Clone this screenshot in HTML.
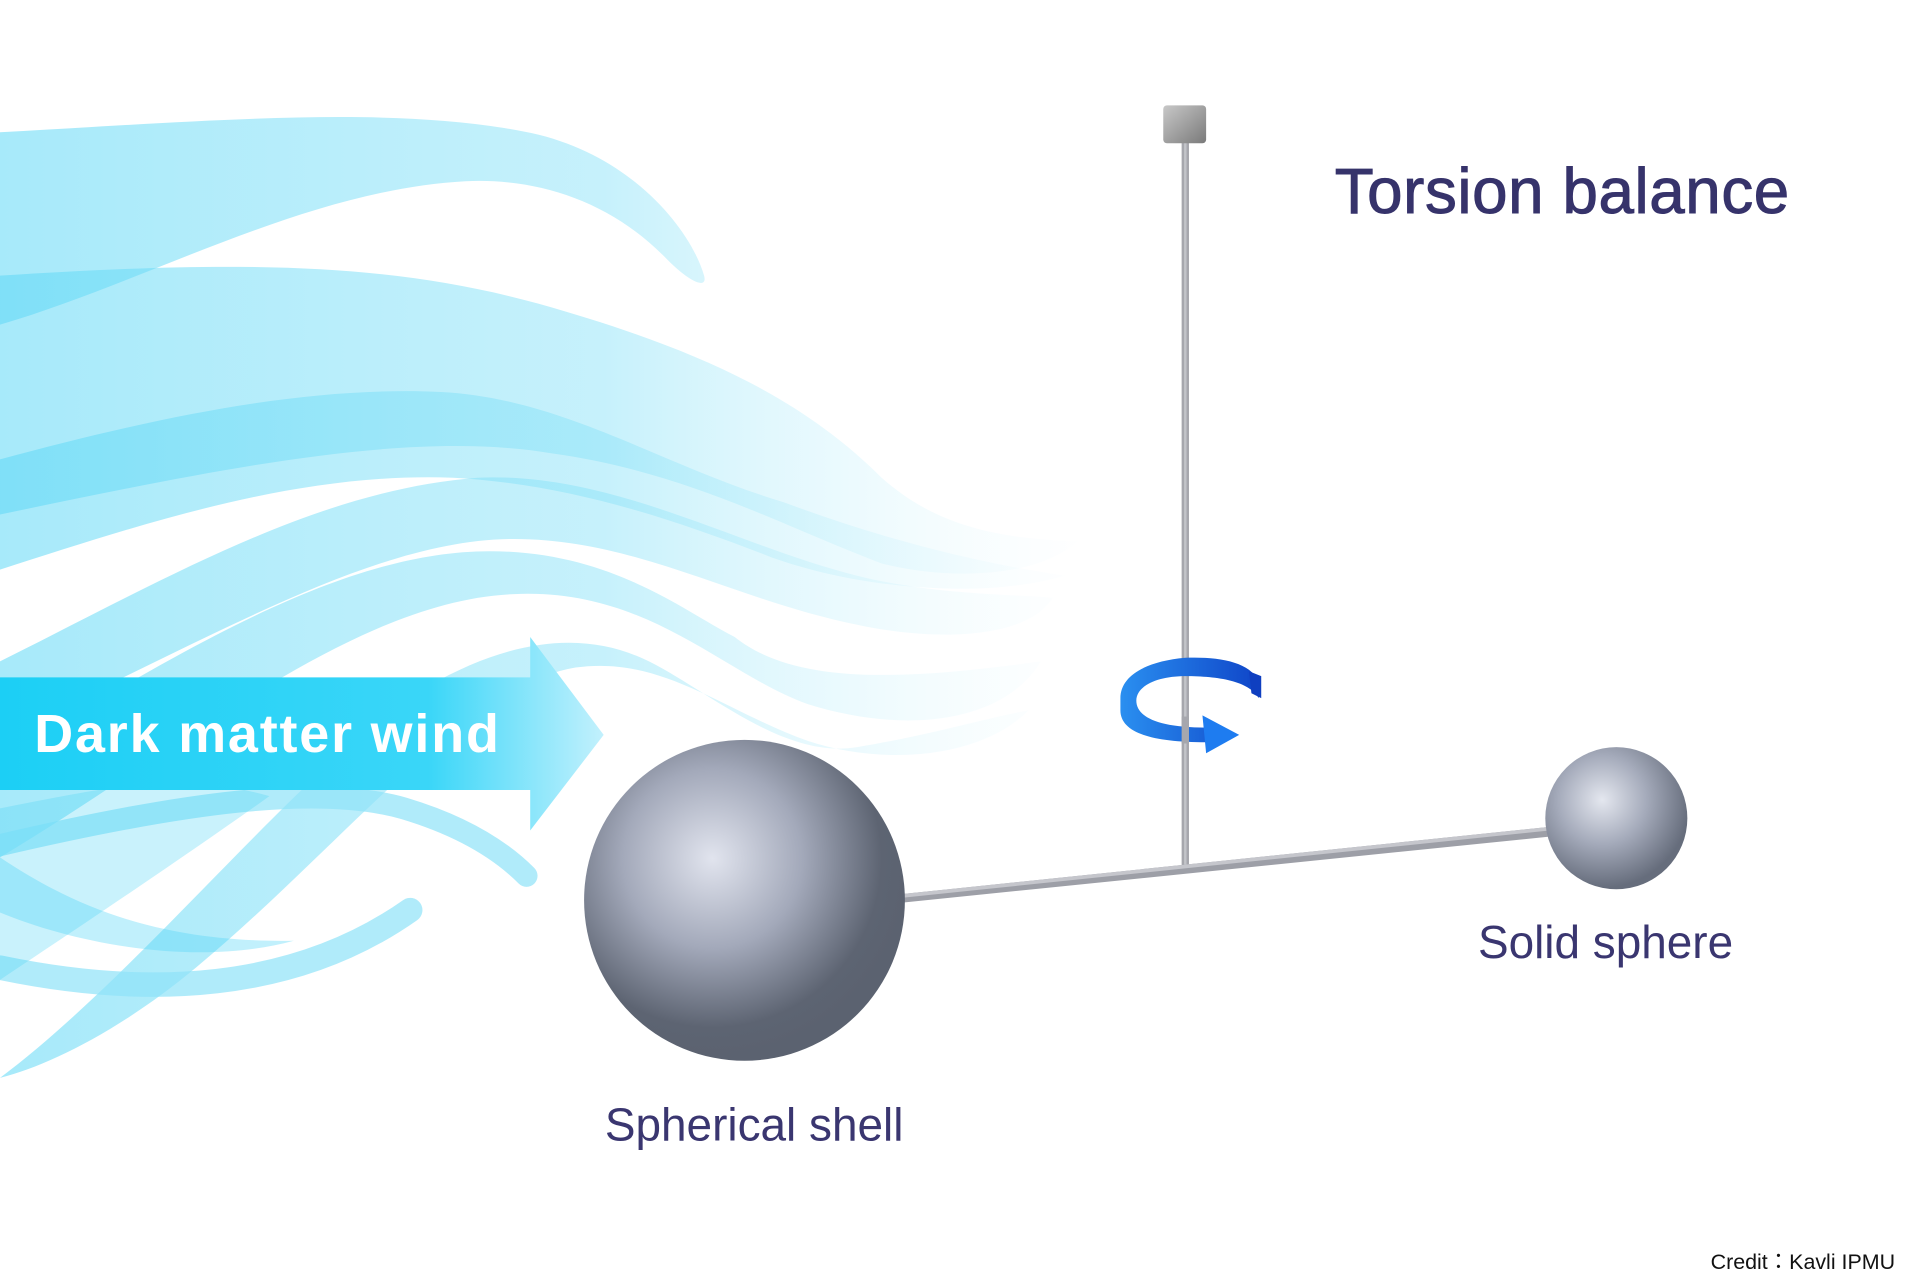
<!DOCTYPE html>
<html><head><meta charset="utf-8"><style>
html,body{margin:0;padding:0;background:#fff;}
svg{display:block;}
</style></head><body>
<svg width="1920" height="1280" viewBox="0 0 1568 1045" preserveAspectRatio="none" xmlns="http://www.w3.org/2000/svg">
<defs>
<linearGradient id="w" x1="0" y1="0" x2="1" y2="0" gradientUnits="userSpaceOnUse" gradientTransform="scale(900,1)">
<stop offset="0" stop-color="#5fd8f6" stop-opacity="0.55"/>
<stop offset="0.55" stop-color="#8ee3f8" stop-opacity="0.5"/>
<stop offset="1" stop-color="#d8f5fd" stop-opacity="0"/>
</linearGradient>
<linearGradient id="arr" x1="0" y1="0" x2="500" y2="0" gradientUnits="userSpaceOnUse">
<stop offset="0" stop-color="#1ccff5"/>
<stop offset="0.7" stop-color="#3ad6f8"/>
<stop offset="1" stop-color="#c9f2fd"/>
</linearGradient>
<radialGradient id="big" cx="0.4" cy="0.37" r="0.62">
<stop offset="0" stop-color="#e1e4ee"/>
<stop offset="0.45" stop-color="#a3a9ba"/>
<stop offset="0.85" stop-color="#5d6472"/>
<stop offset="1" stop-color="#5b6270"/>
</radialGradient>
<radialGradient id="sm" cx="0.4" cy="0.37" r="0.62">
<stop offset="0" stop-color="#e4e7ef"/>
<stop offset="0.5" stop-color="#a5abbb"/>
<stop offset="1" stop-color="#666d7c"/>
</radialGradient>
<linearGradient id="knob" x1="0" y1="0" x2="1" y2="1">
<stop offset="0" stop-color="#c8c8c8"/><stop offset="1" stop-color="#7a7a7a"/>
</linearGradient>
<linearGradient id="rot" x1="0" y1="0" x2="1" y2="0">
<stop offset="0" stop-color="#2a8ff0"/><stop offset="1" stop-color="#0f45c8"/>
</linearGradient>
</defs>

<!-- wind streams -->
<path d="M0,108 C180,98 330,85 440,110 C520,130 565,190 575,225 C578,236 565,232 545,212 C500,165 440,145 380,148 C250,155 120,230 0,265 Z" fill="url(#w)"/>
<path d="M0,225 C200,212 320,215 440,248 C560,282 650,320 720,390 C770,435 830,440 880,442 C850,470 780,475 720,460 C640,430 560,385 450,370 C330,350 170,385 0,420 Z" fill="url(#w)"/>
<path d="M0,375 C130,340 250,315 360,320 C460,325 540,380 640,410 C720,440 800,460 870,470 C800,490 700,480 630,455 C540,420 460,395 370,390 C240,385 110,430 0,465 Z" fill="url(#w)"/>
<path d="M0,540 C140,470 260,400 390,390 C500,385 600,445 700,470 C760,485 820,485 860,488 C840,520 770,525 700,510 C600,490 520,440 420,440 C300,440 160,530 0,600 Z" fill="url(#w)"/>
<path d="M0,620 C150,530 280,450 400,450 C500,450 560,500 600,520 C650,560 740,555 850,540 C820,590 740,600 660,575 C590,550 530,480 420,485 C290,490 150,610 0,700 Z" fill="url(#w)"/>
<path d="M0,880 C120,790 250,620 350,560 C420,520 480,515 530,540 C580,565 640,620 700,610 C760,600 810,585 840,580 C800,620 720,625 660,605 C590,580 540,535 470,545 C380,560 280,690 160,790 C100,840 40,870 0,880 Z" fill="url(#w)"/>
<path d="M0,690 C150,655 260,640 330,660 C380,675 410,695 430,715" fill="none" stroke="#8fe3f8" stroke-opacity="0.7" stroke-width="18" stroke-linecap="round"/>
<path d="M0,790 C120,815 240,810 335,743" fill="none" stroke="#8fe3f8" stroke-opacity="0.7" stroke-width="20" stroke-linecap="round"/>
<path d="M0,700 C60,740 130,770 240,768 C160,790 60,770 0,745 Z" fill="#4cd3f5" fill-opacity="0.35"/>
<path d="M0,660 C100,640 150,630 220,650 C150,700 60,760 0,800 Z" fill="#4cd3f5" fill-opacity="0.3"/>

<!-- arrow -->
<path d="M0,553 L433,553 L433,520 L493,600 L433,678 L433,645 L0,645 Z" fill="url(#arr)"/>
<text x="28" y="614" font-family="Liberation Sans, sans-serif" font-weight="bold" font-size="44" letter-spacing="1.5" fill="#fff">Dark matter wind</text>

<!-- rod -->
<rect x="965" y="115" width="6" height="595" fill="#a6a7ad"/>
<rect x="967" y="115" width="2" height="595" fill="#c3c4c9"/>
<rect x="950" y="86" width="35" height="31" rx="3" fill="url(#knob)"/>
<!-- bar -->
<path d="M736,730 L1285,673 L1285,681 L736,737 Z" fill="#9d9fa7"/>
<path d="M736,730 L1285,673 L1285,676 L736,733 Z" fill="#c5c6cc"/>

<!-- rotation arrow -->
<path d="M1028,570 L1028,556 C1020,540 995,536 968,537 C935,540 915,552 915,570 L915,580 C915,598 940,606 985,606 L985,594 C945,594 928,585 928,572 C928,560 945,552 968,552 C995,552 1020,556 1028,570 Z" fill="url(#rot)"/>
<path d="M1020,548 L1030,552 L1030,570 L1022,566 Z" fill="#0f3fc0"/>
<path d="M982,584 L1012,600 L985,615 Z" fill="#1e7cf0"/>
<rect x="965" y="585" width="6" height="22" fill="#a6a7ad"/>

<!-- spheres -->
<circle cx="608" cy="735" r="131" fill="url(#big)"/>
<circle cx="1320" cy="668" r="58" fill="url(#sm)"/>

<!-- labels -->
<text x="1090" y="174" font-family="Liberation Sans, sans-serif" font-size="52" letter-spacing="0.5" fill="#36336b" stroke="#36336b" stroke-width="0.8">Torsion balance</text>
<text x="1207" y="782" font-family="Liberation Sans, sans-serif" font-size="37.5" fill="#3a3670">Solid sphere</text>
<text x="494" y="931" font-family="Liberation Sans, sans-serif" font-size="37.5" fill="#3a3670">Spherical shell</text>
<text x="1397" y="1036" font-family="Liberation Sans, 'Noto Sans CJK JP', sans-serif" font-size="17.5" fill="#111">Credit：Kavli IPMU</text>
</svg>
</body></html>
